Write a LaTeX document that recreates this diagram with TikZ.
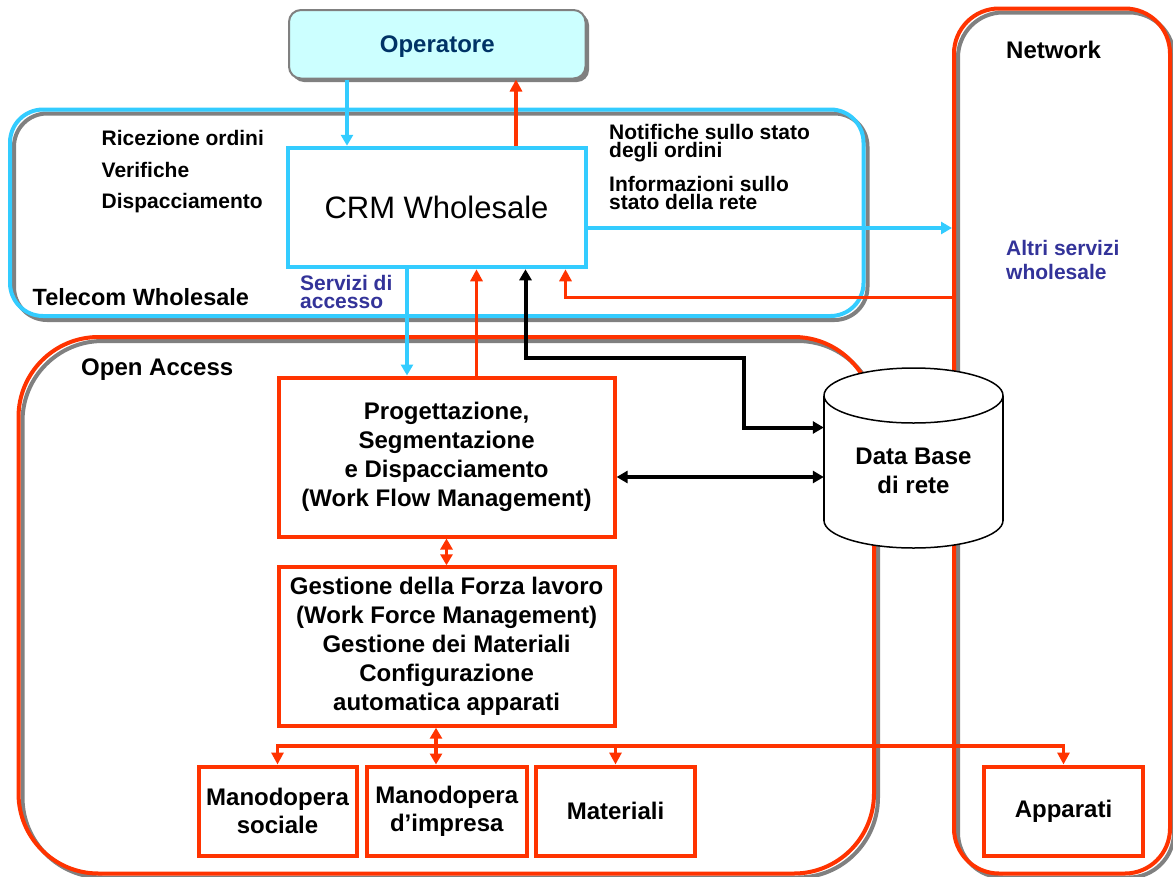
\documentclass[tikz,border=0pt]{standalone}
\usepackage{fontspec}
\setmainfont{Liberation Sans}
\usetikzlibrary{arrows.meta,calc}
\definecolor{ored}{HTML}{FF3300}
\definecolor{ocyan}{HTML}{33CCFF}
\definecolor{oblue}{HTML}{333399}
\definecolor{onavy}{HTML}{003366}
\definecolor{ofill}{HTML}{CCFFFF}
\definecolor{oshadow}{HTML}{808080}
\tikzset{
  shadowline/.style={draw=oshadow, line width=4pt},
  container/.style={line width=4pt, inner sep=0pt, outer sep=2pt},
  redbox/.style={draw=ored, line width=4pt, fill=white, inner sep=0pt, outer sep=2pt, align=center, font=\bfseries\fontsize{24}{29}\selectfont},
  lbl/.style={anchor=base west, inner sep=0pt, font=\bfseries\fontsize{21}{21}\selectfont},
  biglbl/.style={anchor=base west, inner sep=0pt, font=\bfseries\fontsize{24}{24}\selectfont},
  rarr/.style={draw=ored, line width=3.8pt, -{Triangle[length=12pt,width=12pt]}},
  rdbl/.style={draw=ored, line width=3.8pt, {Triangle[length=11pt,width=12pt]}-{Triangle[length=11pt,width=12pt]}},
  carr/.style={draw=ocyan, line width=3.5pt, -{Triangle[length=11pt,width=12pt]}},
  kdbl/.style={draw=black, line width=4pt, {Triangle[length=11pt,width=12pt]}-{Triangle[length=11pt,width=12pt]}},
}
\begin{document}
\begin{tikzpicture}[x=1pt,y=-1pt]
\useasboundingbox (0,0) rectangle (1173,876);
% shadows of the containers
\draw[shadowline, rounded corners=33] (14,113.5) rectangle (867.5,320);
\draw[shadowline, rounded corners=80] (22.5,341) rectangle (878,877.5);
\draw[shadowline, rounded corners=45] (958,12.5) rectangle (1174,877.5);
% containers
\node[container, draw=ocyan, rounded corners=33, minimum width=853.5, minimum height=206.5] (tw) at (436.75,212.75) {};
\node[container, draw=ored, rounded corners=80, minimum width=855.5, minimum height=536.5] (oa) at (446.25,605.25) {};
\node[container, draw=ored, rounded corners=45, minimum width=216, minimum height=865] (net) at (1062,441) {};
% Operatore
\fill[oshadow, rounded corners=12] (292,13) rectangle (589,82);
\node[draw=oshadow, line width=2pt, fill=ofill, rounded corners=12, minimum width=296.5, minimum height=68.5, inner sep=0pt, outer sep=1pt, text depth=0pt, text=onavy, font=\bfseries\fontsize{24}{24}\selectfont] (op) at (437.25,44.25) {Operatore};
% CRM
\node[draw=ocyan, line width=4pt, fill=white, minimum width=298, minimum height=119.5, inner sep=0pt, outer sep=2pt, font=\fontsize{31}{31}\selectfont] (crm) at (436.5,207.5) {CRM Wholesale};
% labels
\node[lbl] (l1) at (101.5,145) {Ricezione ordini};
\node[lbl] (l2) at (101.5,177) {Verifiche};
\node[lbl] (l3) at (101.5,208) {Dispacciamento};
\node[lbl] (l4) at (609,139) {Notifiche sullo stato};
\node[lbl] (l5) at (609,157) {degli ordini};
\node[lbl] (l6) at (609,191) {Informazioni sullo};
\node[lbl] (l7) at (609,209) {stato della rete};
\node[anchor=base west, inner sep=0pt, font=\bfseries\fontsize{23.5}{24}\selectfont] (l8) at (32.5,305) {Telecom Wholesale};
\node[lbl, text=oblue] (l9) at (300,290) {Servizi di};
\node[lbl, text=oblue] (l10) at (300,308) {accesso};
\node[biglbl] (l11) at (1006,58) {Network};
\node[lbl, text=oblue] (l12) at (1006,255) {Altri servizi};
\node[lbl, text=oblue] (l13) at (1006,279) {wholesale};
\node[biglbl] (l14) at (81,375) {Open Access};
% Open Access boxes
\node[redbox, minimum width=336, minimum height=159] (pwf) at (446.6,457) {Progettazione,\\Segmentazione\\e Dispacciamento\\(Work Flow Management)};
\node[redbox, minimum width=336, minimum height=158.4] (gest) at (446.6,646.5) {Gestione della Forza lavoro\\(Work Force Management)\\Gestione dei Materiali\\Configurazione\\automatica apparati};
\node[redbox, minimum width=158, minimum height=89, font=\bfseries\fontsize{24}{28}\selectfont] (soc) at (277.5,811) {Manodopera\\sociale};
\node[redbox, minimum width=159.5, minimum height=89, font=\bfseries\fontsize{24}{28}\selectfont] (imp) at (446.75,811) {Manodopera\\d’impresa};
\node[redbox, minimum width=159, minimum height=89] (mat) at (615.5,811) {Materiali};
\node[redbox, minimum width=159, minimum height=89] (app) at (1063.5,811) {Apparati};
% Data base cylinder
\node[inner sep=0pt, minimum width=179, minimum height=125] (db) at (913.5,458) {};
\fill[white] (824,395.5) rectangle (1003,520.5);
\fill[white] (913.5,520.5) ellipse [x radius=89.5, y radius=27.5];
\fill[white] (913.5,395.5) ellipse [x radius=89.5, y radius=27.5];
\draw[line width=1.5pt] (913.5,395.5) ellipse [x radius=89.5, y radius=27.5];
\draw[line width=1.5pt] (824,395.5) -- (824,520.5) (1003,395.5) -- (1003,520.5);
\begin{scope}
\clip (800,520.5) rectangle (1030,560);
\draw[line width=1.5pt] (913.5,520.5) ellipse [x radius=89.5, y radius=27.5];
\end{scope}
\node[inner sep=0pt, align=center, font=\bfseries\fontsize{24}{29}\selectfont] (dbt) at (913.5,471) {Data Base\\di rete};
% coordinates for connector positions
\coordinate (c1) at (347,100);
\coordinate (r1) at (516,100);
\coordinate (c2) at (407,300);
\coordinate (r2) at (476.5,300);
\coordinate (k1) at (525.5,357.5);
\coordinate (k2) at (744,357.5);
\coordinate (k3) at (744,427.5);
\coordinate (r3) at (565.5,297.5);
\coordinate (c3) at (600,228);
\coordinate (k4) at (700,477);
\coordinate (r4) at (446.5,550);
\coordinate (bus) at (436,746);
% connectors
\draw[carr] (c1 |- op.south) -- (c1 |- crm.north);
\draw[rarr] (r1 |- crm.north) -- (r1 |- op.south);
\draw[carr] (crm.east |- c3) -- (net.west |- c3);
\draw[rarr] (net.west |- r3) -| (r3 |- crm.south);
\draw[carr] (c2 |- crm.south) -- (c2 |- pwf.north);
\draw[rarr] (r2 |- pwf.north) -- (r2 |- crm.south);
\draw[kdbl] (k1 |- crm.south) |- (k2) |- (db.west |- k3);
\draw[kdbl] (pwf.east |- k4) -- (db.west |- k4);
\draw[rdbl] (r4 |- pwf.south) -- (r4 |- gest.north);
\draw[rdbl] (bus |- gest.south) -- (bus |- imp.north);
\draw[rarr] (bus) -| (soc.north);
\draw[rarr] (bus) -| (mat.north);
\draw[rarr] (bus) -| (app.north);
\end{tikzpicture}
\end{document}
